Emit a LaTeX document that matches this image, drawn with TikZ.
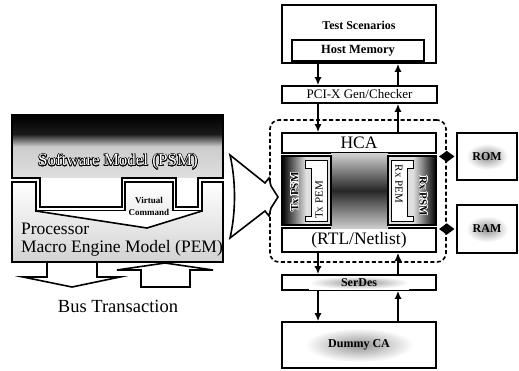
\documentclass[tikz,border=0pt]{standalone}
\usepackage{fontspec}
\setmainfont{Liberation Serif}
\usepackage[copies]{contour}
\usepackage{tikz}
\usetikzlibrary{positioning}
\usetikzlibrary{shapes.geometric}
\usetikzlibrary{arrows.meta}
\newcommand{\tikzTextSize}[1]{\fontsize{#1}{#1}\selectfont}
\pgfdeclareverticalshading{psmshade}{100bp}{color(0bp)=(gray!25); color(25bp)=(gray!25); color(50bp)=(gray!40); color(60bp)=(black!90); color(75bp)=(black); color(100bp)=(black)}
\contourlength{0.6pt}

\begin{document}
\begin{tikzpicture}[x=1pt,y=-1pt,line width=1.6pt,
    box/.style={draw, fill=white, inner sep=0pt},
    link/.style={-{Latex[length=8pt,width=7pt]}},
    halo/.style={shading=radial, inner color=gray!85, outer color=white, inner sep=0pt, font=\tikzTextSize{12}\bfseries},
    dmd/.style={diamond, fill=black, inner sep=0pt, minimum width=16pt, minimum height=12pt}]
          \useasboundingbox (0,0) rectangle (519,370);
          % host side
          \node[box, minimum width=154pt, minimum height=58pt] (ts) at (359,34) {};
          \node[font=\tikzTextSize{12}\bfseries] (tstext) at (359,25) {Test Scenarios};
          \node[box, minimum width=132pt, minimum height=21pt, font=\tikzTextSize{12.5}\bfseries] (hm) at (358,50.5) {Host Memory};
          \node[box, minimum width=155pt, minimum height=17pt, font=\tikzTextSize{13}] (pci) at (359.5,94.5) {PCI-X Gen/Checker};
          % dashed HCA area
          \node[draw, dashed, dash pattern=on 4pt off 2.5pt, line width=1.6pt, rounded corners=9pt, minimum width=176pt, minimum height=142pt] (hcaarea) at (358,191) {};
          \node[box, minimum width=154pt, minimum height=20pt, font=\tikzTextSize{17.5}] (hca) at (359,143) {HCA};
          \node[box, minimum width=154pt, minimum height=24pt, font=\tikzTextSize{17.5}] (rtl) at (359,240) {(RTL/Netlist)};
          \shade[top color=gray!35, bottom color=gray!40, middle color=black!85] (331,153) rectangle (388,228);
          % tx side
          \shade[left color=black, right color=gray!25] (282,156) rectangle (306,225);
          \fill[gray!25] (306,156) rectangle (331,225);
          \draw[fill=white, line width=1pt] (305,160) -- (327,160) -- (327,221) -- (305,221) -- (305,216) -- (311,216) -- (311,168) -- (305,168) -- cycle;
          \draw (282,156) rectangle (331,225);
          \node[rotate=90, font=\tikzTextSize{11}\bfseries] (txpsm) at (295,192) {\contour{white}{Tx PSM}};
          \node[rotate=90, font=\tikzTextSize{11}] (txpem) at (319,200) {Tx PEM};
          % rx side
          \fill[gray!25] (388,156) rectangle (413,225);
          \shade[left color=gray!25, right color=black] (413,156) rectangle (436,225);
          \draw[fill=white, line width=1pt] (391.5,160) -- (413.5,160) -- (413.5,168) -- (407.5,168) -- (407.5,216) -- (413.5,216) -- (413.5,221) -- (391.5,221) -- cycle;
          \draw (388,156) rectangle (436,225);
          \node[rotate=-90, font=\tikzTextSize{11}] (rxpem) at (399,184) {Rx PEM};
          \node[rotate=-90, font=\tikzTextSize{11}\bfseries] (rxpsm) at (423,196) {\contour{white}{Rx PSM}};
          % memories
          \node[box, minimum width=60pt, minimum height=47pt] (rom) at (487,156.5) {};
          \node[halo, minimum width=42pt, minimum height=26pt] (romtext) at (rom) {ROM};
          \node[box, minimum width=60pt, minimum height=48pt] (ram) at (487,229) {};
          \node[halo, minimum width=42pt, minimum height=26pt] (ramtext) at (ram) {RAM};
          \node[dmd] (romport) at (hcaarea.east |- rom) {};
          \node[dmd] (ramport) at (hcaarea.east |- ram) {};
          \draw (romport) -- (rom);
          \draw (ramport) -- (ram);
          % link side
          \node[box, minimum width=154pt, minimum height=15pt] (serdes) at (359,282.5) {};
          \node[halo, minimum width=100pt, minimum height=13pt] (serdestext) at (serdes) {SerDes};
          \node[box, minimum width=154pt, minimum height=46pt] (dummy) at (359,345) {};
          \node[halo, minimum width=108pt, minimum height=34pt] (dummytext) at (dummy) {Dummy CA};
          % arrows
          \coordinate (downlane) at (318,0);
          \coordinate (uplane) at (398,0);
          \draw[link] (ts.south -| downlane) -- (pci.north -| downlane);
          \draw[link] (pci.north -| uplane) -- (ts.south -| uplane);
          \draw[link] (pci.south -| downlane) -- (hca.north -| downlane);
          \draw[link] (hca.north -| uplane) -- (pci.south -| uplane);
          \draw[link] (rtl.south -| downlane) -- (serdes.north -| downlane);
          \draw[link] (serdes.north -| uplane) -- (rtl.south -| uplane);
          \draw[link] (serdes.south -| downlane) -- (dummy.north -| downlane);
          \draw[link] (dummy.north -| uplane) -- (serdes.south -| uplane);
          % processor model
          \draw[top color=white, bottom color=gray!35] (12,262) -- (12,182) -- (36,182) -- (36,211) -- (125,211) -- (125,182) -- (173,182) -- (173,211) -- (202,211) -- (202,182) -- (223,182) -- (223,262) -- cycle;
          \fill[white] (36,211) -- (147,228) -- (202,211) -- cycle;
          \draw (36,211) -- (147,228) -- (202,211);
          \shade[shading=psmshade] (12,115) rectangle (223,178);
          \fill[white] (40,178) rectangle (122,207);
          \fill[white] (176,178) rectangle (198,207);
          \draw (12,115) -- (223,115) -- (223,178) -- (198,178) -- (198,207) -- (176,207) -- (176,178) -- (122,178) -- (122,207) -- (40,207) -- (40,178) -- (12,178) -- cycle;
          \node[text=white, font=\tikzTextSize{17}] (psm) at (118,162) {\contour{black}{Software Model (PSM)}};
          \node[font=\tikzTextSize{9}\bfseries] (vcmd) at (149,200) {Virtual};
          \node[font=\tikzTextSize{9}\bfseries] (vcmdb) at (149,212) {Command};
          \node[anchor=west, font=\tikzTextSize{17.5}] (proc) at (17,229) {Processor};
          \node[anchor=west, font=\tikzTextSize{17.5}] (pem) at (17,248) {Macro Engine Model (PEM)};
          % bus transaction
          \draw[fill=white] (47,262) -- (47,277) -- (23,277) -- (72,287) -- (120,277) -- (97,277) -- (97,262) -- cycle;
          \draw[fill=white] (141,287) -- (141,270) -- (117,270) -- (165,263) -- (213,270) -- (190,270) -- (190,287) -- cycle;
          \node[font=\tikzTextSize{18.5}] (bus) at (118,306) {Bus Transaction};
          % mapping arrow
          \draw[fill=white] (230,155) -- (265,183) -- (269,178) -- (271,186) -- (278,197) -- (271,208) -- (269,216) -- (265,211) -- (230,238) .. controls (236,212) and (236,181) .. (230,155) -- cycle;
        \end{tikzpicture}
\end{document}
